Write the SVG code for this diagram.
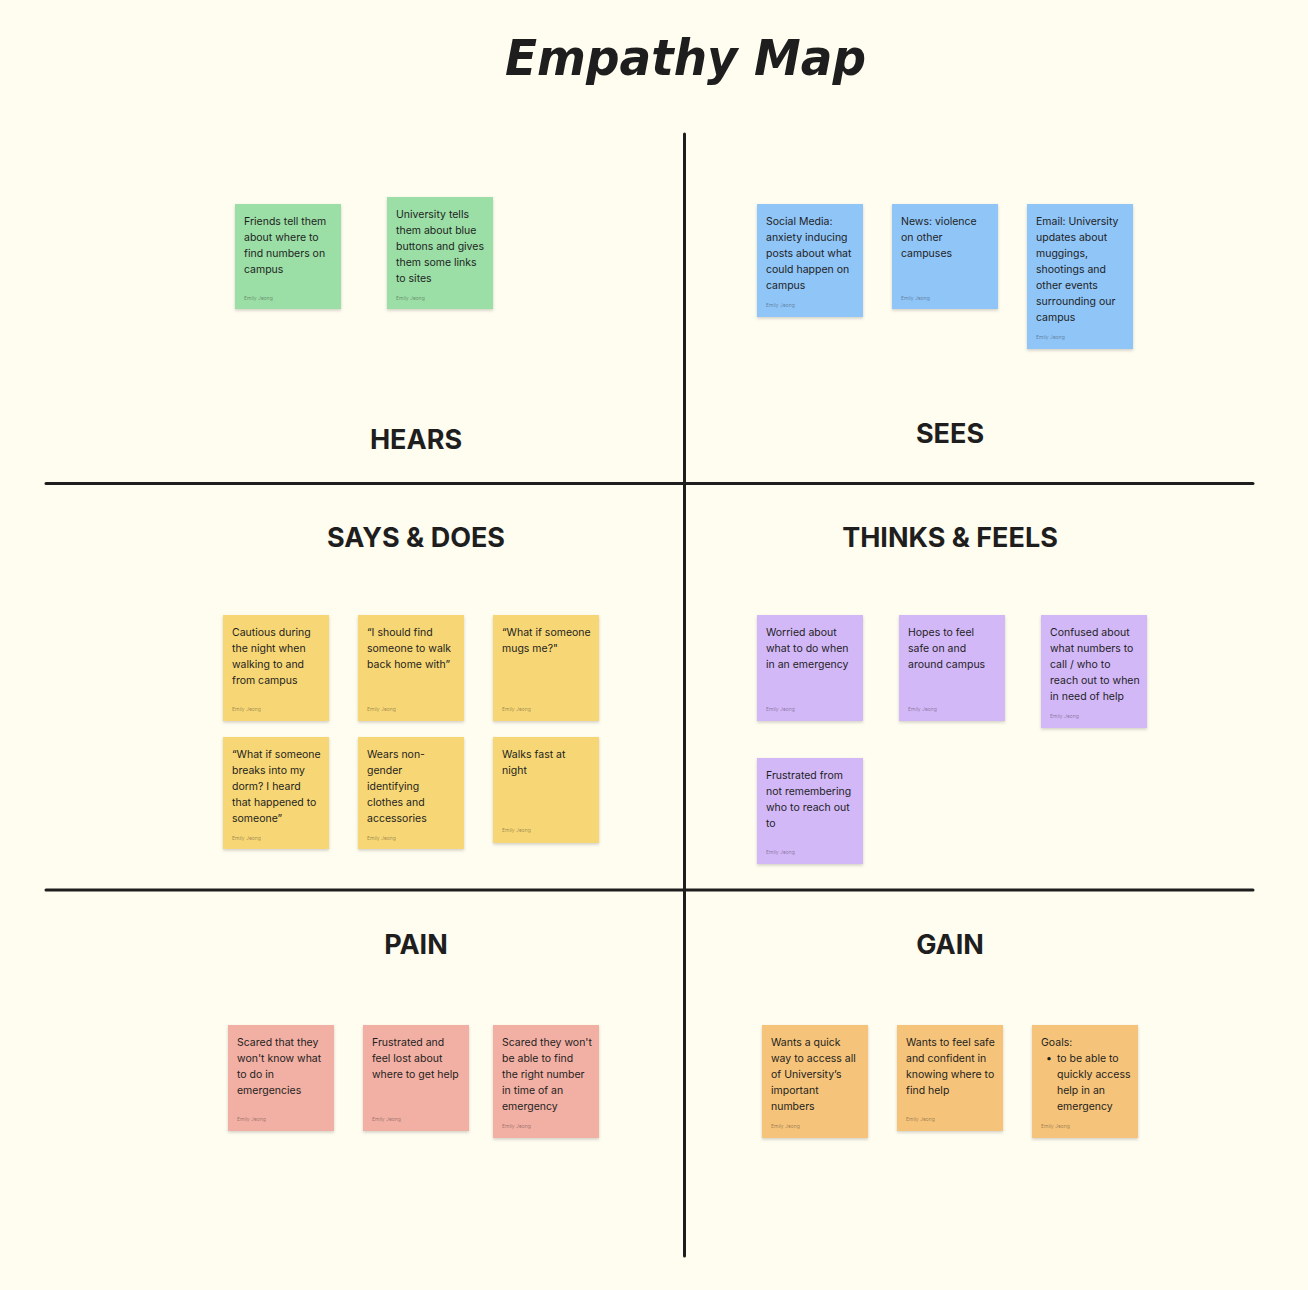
<svg xmlns="http://www.w3.org/2000/svg" width="1308" height="1290" viewBox="0 0 1308 1290">
<defs>
<filter id="sh" x="-10%" y="-10%" width="120%" height="125%">
<feDropShadow dx="0" dy="1.5" stdDeviation="1.5" flood-color="#000" flood-opacity="0.18"/>
</filter>
<style>
.bg{fill:#FFFCF0}
.ln{stroke:#1E1E1E;stroke-width:3;stroke-linecap:round;fill:none}
.title{font-family:"DejaVu Sans","Liberation Sans",sans-serif;font-style:oblique;font-weight:bold;font-size:50px;fill:#1E1E1E}
.hd{font-family:Inter,"Liberation Sans",sans-serif;font-weight:700;font-size:27px;fill:#1E1E1E;text-anchor:middle;letter-spacing:0px}
.st{filter:url(#sh)}
.t{font-family:Inter,"Liberation Sans",sans-serif;font-size:10.5px;fill:#1E1E1E}
.a{font-family:Inter,"Liberation Sans",sans-serif;font-size:5px;fill:#1E1E1E;fill-opacity:0.45}
.g{fill:#9BDFA6}.b{fill:#90C5F8}.y{fill:#F7D774}.p{fill:#D3B8F8}.r{fill:#F2B0A4}.o{fill:#F5C47A}
</style>
</defs>
<rect class="bg" x="0" y="0" width="1308" height="1290"/>
<text class="title" x="505" y="75" textLength="361" lengthAdjust="spacingAndGlyphs">Empathy Map</text>

<g id="connectors">
<line class="ln" x1="684.5" y1="134" x2="684.5" y2="1256"/>
<line class="ln" x1="46" y1="483.5" x2="1253" y2="483.5"/>
<line class="ln" x1="46" y1="890" x2="1253" y2="890"/>
</g>

<g id="headings">
<text class="hd" x="416" y="449">HEARS</text>
<text class="hd" x="950" y="443">SEES</text>
<text class="hd" x="416" y="547">SAYS &amp; DOES</text>
<text class="hd" x="950" y="547">THINKS &amp; FEELS</text>
<text class="hd" x="416" y="954">PAIN</text>
<text class="hd" x="950" y="954">GAIN</text>
</g>

<!-- HEARS -->
<g id="hears-1"><rect class="st g" x="235" y="204" width="106" height="105"/>
<text class="t" x="244" y="225"><tspan x="244">Friends tell them</tspan><tspan x="244" dy="16">about where to</tspan><tspan x="244" dy="16">find numbers on</tspan><tspan x="244" dy="16">campus</tspan></text>
<text class="a" x="244" y="300">Emily Jeong</text></g>
<g id="hears-2"><rect class="st g" x="387" y="197" width="106" height="112"/>
<text class="t" x="396" y="218"><tspan x="396">University tells</tspan><tspan x="396" dy="16">them about blue</tspan><tspan x="396" dy="16">buttons and gives</tspan><tspan x="396" dy="16">them some links</tspan><tspan x="396" dy="16">to sites</tspan></text>
<text class="a" x="396" y="300">Emily Jeong</text></g>

<!-- SEES -->
<g id="sees-1"><rect class="st b" x="757" y="204" width="106" height="113"/>
<text class="t" x="766" y="225"><tspan x="766">Social Media:</tspan><tspan x="766" dy="16">anxiety inducing</tspan><tspan x="766" dy="16">posts about what</tspan><tspan x="766" dy="16">could happen on</tspan><tspan x="766" dy="16">campus</tspan></text>
<text class="a" x="766" y="307">Emily Jeong</text></g>
<g id="sees-2"><rect class="st b" x="892" y="204" width="106" height="105"/>
<text class="t" x="901" y="225"><tspan x="901">News: violence</tspan><tspan x="901" dy="16">on other</tspan><tspan x="901" dy="16">campuses</tspan></text>
<text class="a" x="901" y="300">Emily Jeong</text></g>
<g id="sees-3"><rect class="st b" x="1027" y="204" width="106" height="145"/>
<text class="t" x="1036" y="225"><tspan x="1036">Email: University</tspan><tspan x="1036" dy="16">updates about</tspan><tspan x="1036" dy="16">muggings,</tspan><tspan x="1036" dy="16">shootings and</tspan><tspan x="1036" dy="16">other events</tspan><tspan x="1036" dy="16">surrounding our</tspan><tspan x="1036" dy="16">campus</tspan></text>
<text class="a" x="1036" y="339">Emily Jeong</text></g>

<!-- SAYS & DOES -->
<g id="says-1"><rect class="st y" x="223" y="615" width="106" height="106"/>
<text class="t" x="232" y="636"><tspan x="232">Cautious during</tspan><tspan x="232" dy="16">the night when</tspan><tspan x="232" dy="16">walking to and</tspan><tspan x="232" dy="16">from campus</tspan></text>
<text class="a" x="232" y="711">Emily Jeong</text></g>
<g id="says-2"><rect class="st y" x="358" y="615" width="106" height="106"/>
<text class="t" x="367" y="636"><tspan x="367">“I should find</tspan><tspan x="367" dy="16">someone to walk</tspan><tspan x="367" dy="16">back home with”</tspan></text>
<text class="a" x="367" y="711">Emily Jeong</text></g>
<g id="says-3"><rect class="st y" x="493" y="615" width="106" height="106"/>
<text class="t" x="502" y="636"><tspan x="502">“What if someone</tspan><tspan x="502" dy="16">mugs me?"</tspan></text>
<text class="a" x="502" y="711">Emily Jeong</text></g>
<g id="says-4"><rect class="st y" x="223" y="737" width="106" height="112"/>
<text class="t" x="232" y="758"><tspan x="232">“What if someone</tspan><tspan x="232" dy="16">breaks into my</tspan><tspan x="232" dy="16">dorm? I heard</tspan><tspan x="232" dy="16">that happened to</tspan><tspan x="232" dy="16">someone”</tspan></text>
<text class="a" x="232" y="840">Emily Jeong</text></g>
<g id="says-5"><rect class="st y" x="358" y="737" width="106" height="112"/>
<text class="t" x="367" y="758"><tspan x="367">Wears non-</tspan><tspan x="367" dy="16">gender</tspan><tspan x="367" dy="16">identifying</tspan><tspan x="367" dy="16">clothes and</tspan><tspan x="367" dy="16">accessories</tspan></text>
<text class="a" x="367" y="840">Emily Jeong</text></g>
<g id="says-6"><rect class="st y" x="493" y="737" width="106" height="106"/>
<text class="t" x="502" y="758"><tspan x="502">Walks fast at</tspan><tspan x="502" dy="16">night</tspan></text>
<text class="a" x="502" y="832">Emily Jeong</text></g>

<!-- THINKS & FEELS -->
<g id="thinks-1"><rect class="st p" x="757" y="615" width="106" height="106"/>
<text class="t" x="766" y="636"><tspan x="766">Worried about</tspan><tspan x="766" dy="16">what to do when</tspan><tspan x="766" dy="16">in an emergency</tspan></text>
<text class="a" x="766" y="711">Emily Jeong</text></g>
<g id="thinks-2"><rect class="st p" x="899" y="615" width="106" height="106"/>
<text class="t" x="908" y="636"><tspan x="908">Hopes to feel</tspan><tspan x="908" dy="16">safe on and</tspan><tspan x="908" dy="16">around campus</tspan></text>
<text class="a" x="908" y="711">Emily Jeong</text></g>
<g id="thinks-3"><rect class="st p" x="1041" y="615" width="106" height="113"/>
<text class="t" x="1050" y="636"><tspan x="1050">Confused about</tspan><tspan x="1050" dy="16">what numbers to</tspan><tspan x="1050" dy="16">call / who to</tspan><tspan x="1050" dy="16">reach out to when</tspan><tspan x="1050" dy="16">in need of help</tspan></text>
<text class="a" x="1050" y="718">Emily Jeong</text></g>
<g id="thinks-4"><rect class="st p" x="757" y="758" width="106" height="106"/>
<text class="t" x="766" y="779"><tspan x="766">Frustrated from</tspan><tspan x="766" dy="16">not remembering</tspan><tspan x="766" dy="16">who to reach out</tspan><tspan x="766" dy="16">to</tspan></text>
<text class="a" x="766" y="854">Emily Jeong</text></g>

<!-- PAIN -->
<g id="pain-1"><rect class="st r" x="228" y="1025" width="106" height="106"/>
<text class="t" x="237" y="1046"><tspan x="237">Scared that they</tspan><tspan x="237" dy="16">won't know what</tspan><tspan x="237" dy="16">to do in</tspan><tspan x="237" dy="16">emergencies</tspan></text>
<text class="a" x="237" y="1121">Emily Jeong</text></g>
<g id="pain-2"><rect class="st r" x="363" y="1025" width="106" height="106"/>
<text class="t" x="372" y="1046"><tspan x="372">Frustrated and</tspan><tspan x="372" dy="16">feel lost about</tspan><tspan x="372" dy="16">where to get help</tspan></text>
<text class="a" x="372" y="1121">Emily Jeong</text></g>
<g id="pain-3"><rect class="st r" x="493" y="1025" width="106" height="113"/>
<text class="t" x="502" y="1046"><tspan x="502">Scared they won't</tspan><tspan x="502" dy="16">be able to find</tspan><tspan x="502" dy="16">the right number</tspan><tspan x="502" dy="16">in time of an</tspan><tspan x="502" dy="16">emergency</tspan></text>
<text class="a" x="502" y="1128">Emily Jeong</text></g>

<!-- GAIN -->
<g id="gain-1"><rect class="st o" x="762" y="1025" width="106" height="113"/>
<text class="t" x="771" y="1046"><tspan x="771">Wants a quick</tspan><tspan x="771" dy="16">way to access all</tspan><tspan x="771" dy="16">of University’s</tspan><tspan x="771" dy="16">important</tspan><tspan x="771" dy="16">numbers</tspan></text>
<text class="a" x="771" y="1128">Emily Jeong</text></g>
<g id="gain-2"><rect class="st o" x="897" y="1025" width="106" height="106"/>
<text class="t" x="906" y="1046"><tspan x="906">Wants to feel safe</tspan><tspan x="906" dy="16">and confident in</tspan><tspan x="906" dy="16">knowing where to</tspan><tspan x="906" dy="16">find help</tspan></text>
<text class="a" x="906" y="1121">Emily Jeong</text></g>
<g id="gain-3"><rect class="st o" x="1032" y="1025" width="106" height="113"/>
<text class="t" x="1041" y="1046"><tspan x="1041">Goals:</tspan><tspan x="1046" dy="16">•</tspan><tspan x="1057">to be able to</tspan><tspan x="1057" dy="16">quickly access</tspan><tspan x="1057" dy="16">help in an</tspan><tspan x="1057" dy="16">emergency</tspan></text>
<text class="a" x="1041" y="1128">Emily Jeong</text></g>
</svg>
